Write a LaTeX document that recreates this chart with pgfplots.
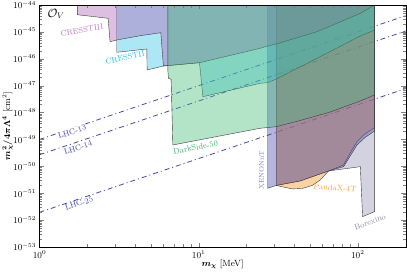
\documentclass[border=0pt]{standalone}
\usepackage{pgfplots}
\pgfplotsset{compat=1.18}
\usepackage{amsmath,bm}
\definecolor{cIII}{RGB}{170,95,180}
\definecolor{cII}{RGB}{40,190,230}
\definecolor{cDS}{RGB}{67,187,117}
\definecolor{cXe}{RGB}{70,70,170}
\definecolor{cPX}{RGB}{245,155,50}
\definecolor{cBx}{RGB}{143,143,180}
\definecolor{cLHC}{RGB}{70,70,170}
\definecolor{edge}{RGB}{60,60,60}
\definecolor{lIII}{RGB}{185,115,190}
\definecolor{lII}{RGB}{40,185,230}
\definecolor{lDS}{RGB}{60,175,110}
\definecolor{lXe}{RGB}{130,130,195}
\definecolor{lPX}{RGB}{245,160,60}
\definecolor{lBx}{RGB}{140,140,175}
\begin{document}
\begin{tikzpicture}
\begin{axis}[
  width=366.2bp, height=242bp, scale only axis,
  xmode=log, ymode=log,
  xmin=1, xmax=200, ymin=1e-53, ymax=1e-44,
  xtickten={0,1,2},
  ytickten={-53,-52,-51,-50,-49,-48,-47,-46,-45,-44},
  tick label style={font=\small},
  label style={font=\small},
  xlabel={$\boldsymbol{m_\chi}$ [MeV]},
  ylabel={$\boldsymbol{m_\chi^2/4\pi\Lambda^4}$ [cm$^2$]},
  xlabel style={at={(rel axis cs:0.5,-0.07)}, anchor=center},
  ylabel style={at={(rel axis cs:-0.087,0.5)}, anchor=center},
  axis on top,
  region/.style={draw=edge, line width=0.4pt, fill opacity=0.4},
  lhc/.style={cLHC, line width=0.8pt, dash pattern=on 5bp off 3bp on 1bp off 3bp},
]
% LHC lines
\addplot[lhc] coordinates {(1,1.0e-49) (200,4.0e-45)};
\addplot[lhc] coordinates {(1,2.7e-50) (200,1.08e-45)};
\addplot[lhc] coordinates {(1,1.95e-52) (200,7.8e-48)};
% Borexino
\addplot[region, fill=cBx] coordinates {
 (30.73,1e-44) (30.73,1.950e-51) (43.50,2.866e-51) (65.52,6.745e-51) (103.7,9.745e-51)
 (107.2,1.349e-52) (127.5,2.070e-52) (127.5,1e-44)} -- cycle;
% PandaX-4T
\addplot[region, fill=cPX, fill opacity=0.45] coordinates {
 (30.73,1e-44) (30.73,1.950e-51) (34.00,1.715e-51) (38.73,1.445e-51) (44.77,1.508e-51)
 (51.74,1.950e-51) (58.10,3.122e-51) (65.52,6.745e-51) (81.43,1.127e-50) (91.93,4.071e-50)
 (98.85,8.284e-50) (108.7,1.470e-49) (125.7,2.609e-49) (127.5,2.8e-49) (127.5,1e-44)} -- cycle;
% XENONnT
\addplot[region, fill=cXe, fill opacity=0.4] coordinates {
 (27.08,1e-44) (27.08,1.534e-51) (30.73,1.950e-51) (43.50,2.866e-51) (65.52,6.745e-51)
 (81.43,9.745e-51) (98.85,6.246e-50) (111.5,1.207e-49) (125.7,1.950e-49) (127.5,2.0e-49)
 (127.5,1e-44)} -- cycle;
% CRESST-II
\addplot[region, fill=cII, fill opacity=0.38] coordinates {
 (3.059,1e-44) (3.059,1.745e-46) (4.723,2.314e-46) (4.744,3.834e-47) (6.006,5.399e-47)
 (10.12,7.161e-47) (10.63,3.900e-48) (24.37,1.228e-47) (27.08,1.293e-47) (30.73,1.775e-47)
 (55.40,1.044e-46) (103.7,7.041e-46) (127.5,1.176e-45) (127.5,1e-44)} -- cycle;
% CRESST-III
\addplot[region, fill=cIII] coordinates {
 (1.729,1e-44) (1.729,4.359e-45) (2.697,3.204e-45) (2.776,4.322e-46) (3.059,4.999e-46)
 (4.287,7.223e-46) (5.785,9.339e-46) (6.006,5.399e-47) (10.12,7.161e-47) (24.37,2.457e-46)
 (27.08,2.991e-46) (30.73,3.549e-46) (55.40,1.017e-45) (103.7,4.913e-45) (127.5,1e-44)} -- cycle;
% DarkSide-50
\addplot[region, fill=cDS] coordinates {
 (6.403,1e-44) (6.403,3.834e-47) (6.459,1.884e-47) (6.714,1.730e-47) (6.882,6.246e-50)
 (24.37,2.609e-49) (30.73,2.991e-49) (43.50,5.085e-49) (67.15,1.053e-48) (103.7,2.699e-48)
 (127.5,4.511e-48) (127.5,1e-44)} -- cycle;
% labels
\node[font=\large] at (rel axis cs:0.045,0.963) {$\mathcal{O}_V$};
\node[text=lIII, font=\footnotesize, rotate=9] at (rel axis cs:0.116,0.897) {CRESSTIII};
\node[text=lII, font=\footnotesize, rotate=12] at (rel axis cs:0.2335,0.783) {CRESSTII};
\node[text=lDS, font=\footnotesize, rotate=10.6] at (rel axis cs:0.426,0.411) {DarkSide-50};
\node[text=lXe, font=\scriptsize, rotate=90] at (rel axis cs:0.606,0.318) {XENONnT};
\node[text=lPX, font=\footnotesize, rotate=-4] at (rel axis cs:0.807,0.244) {PandaX-4T};
\node[text=lBx, font=\footnotesize, rotate=21] at (rel axis cs:0.9025,0.103) {Borexino};
\node[text=cLHC, font=\footnotesize, rotate=18.7, fill=white, inner sep=0.5pt] at (rel axis cs:0.0887,0.477) {LHC-13};
\node[text=cLHC, font=\footnotesize, rotate=18.7, fill=white, inner sep=0.5pt] at (rel axis cs:0.105,0.411) {LHC-14};
\node[text=cLHC, font=\footnotesize, rotate=18.7, fill=white, inner sep=0.5pt] at (rel axis cs:0.108,0.18) {LHC-25};
\end{axis}
\pgfresetboundingbox
\path ([xshift=-39.5bp,yshift=-25bp]current axis.south west) rectangle ([xshift=1.3bp,yshift=5bp]current axis.north east);
\end{tikzpicture}
\end{document}
